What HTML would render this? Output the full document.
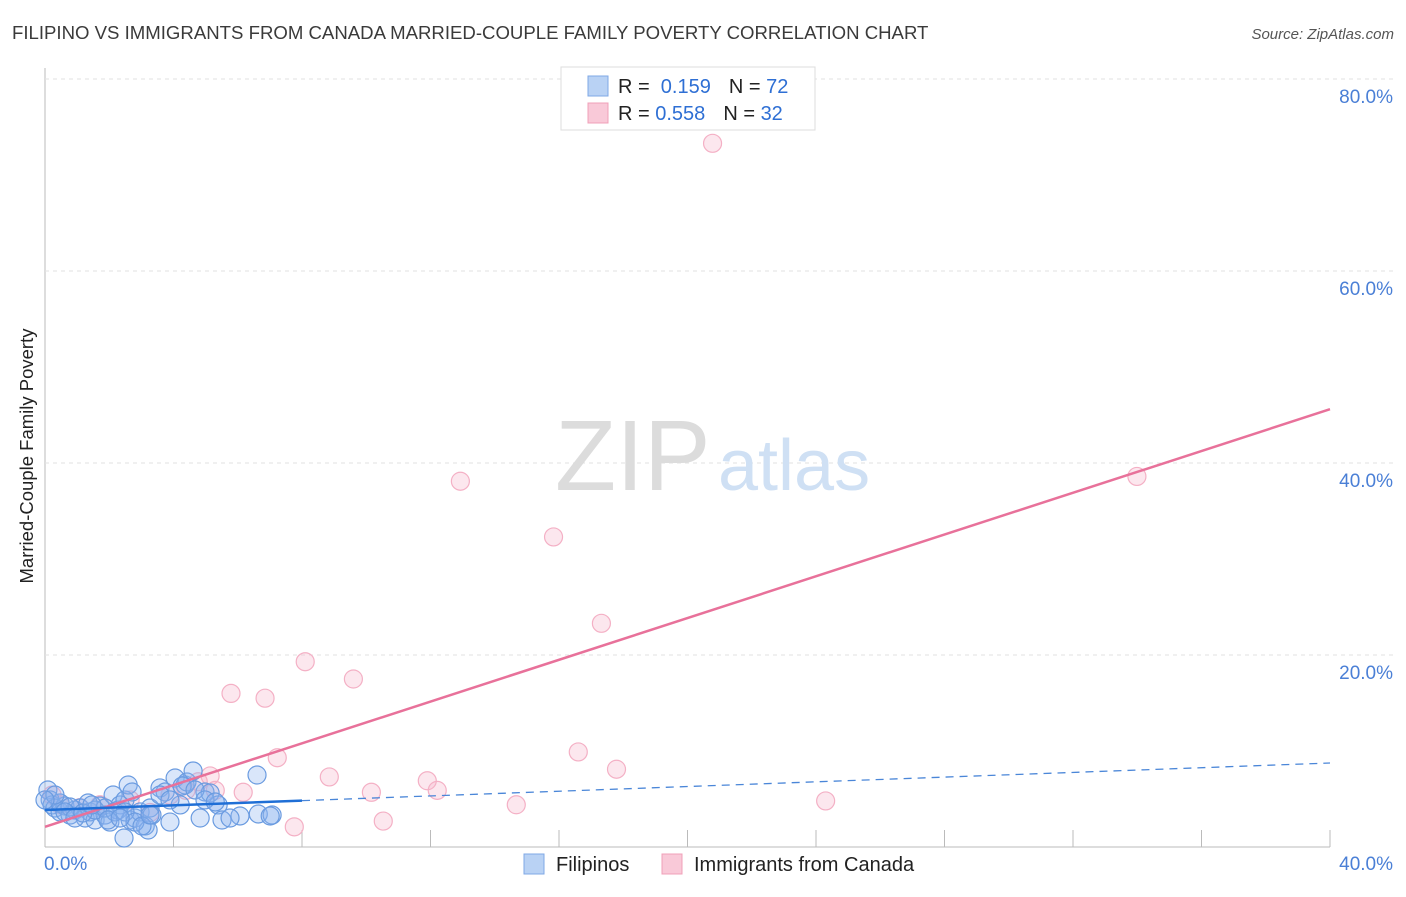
<!DOCTYPE html>
<html><head><meta charset="utf-8"><style>
body{margin:0;background:#fff;font-family:"Liberation Sans",sans-serif;}
svg text{font-family:"Liberation Sans",sans-serif;}
</style></head><body>
<svg id="chart" width="1406" height="892">
<text x="12" y="39" font-size="18.6" fill="#3a3a3a">FILIPINO VS IMMIGRANTS FROM CANADA MARRIED-COUPLE FAMILY POVERTY CORRELATION CHART</text>
<text x="1394" y="39" font-size="15" fill="#555" font-style="italic" text-anchor="end">Source: ZipAtlas.com</text>
<text x="33" y="456" font-size="18.5" fill="#222" text-anchor="middle" transform="rotate(-90 33 456)">Married-Couple Family Poverty</text>
<g id="grid"></g>
<text x="555" y="490" font-size="100" fill="#dcdcdc" font-family="Liberation Serif">ZIP</text>
<text x="718" y="490" font-size="72" fill="#cfe0f4">atlas</text>
<g id="pts"></g>
<g id="lines"></g>
<g>
<rect x="561" y="67" width="254" height="63" fill="#fff" stroke="#ddd"/>
<rect x="588" y="76" width="20" height="20" fill="#b9d2f4" stroke="#7fa8e6"/>
<rect x="588" y="103" width="20" height="20" fill="#f9c9d8" stroke="#f0a0b8"/>
<text x="618" y="93" font-size="20" fill="#222">R = <tspan fill="#2e6fd4">&#160;0.159</tspan><tspan dx="18">N = </tspan><tspan fill="#2e6fd4">72</tspan></text>
<text x="618" y="120" font-size="20" fill="#222">R = <tspan fill="#2e6fd4">0.558</tspan><tspan dx="18">N = </tspan><tspan fill="#2e6fd4">32</tspan></text>
</g>
<g>
<rect x="524" y="854" width="20" height="20" fill="#b9d2f4" stroke="#7fa8e6"/>
<text x="556" y="871" font-size="20" fill="#222">Filipinos</text>
<rect x="662" y="854" width="20" height="20" fill="#f9c9d8" stroke="#f0a0b8"/>
<text x="694" y="871" font-size="20" fill="#222">Immigrants from Canada</text>
</g>
</svg>
<script>
const blueX=[0.09,0.16,0.22,0.31,0.47,0.62,0.78,0.93,1.09,1.25,1.4,1.56,1.71,1.87,2.02,2.12,2.27,2.34,2.49,2.59,2.65,2.8,2.96,3.12,3.21,3.27,3.33,3.58,3.74,3.89,4.05,4.21,4.36,4.42,4.61,4.83,4.98,5.14,5.39,5.51,6.07,6.6,6.64,7.07,2.46,0.47,0.78,1.34,1.56,1.87,2.18,2.49,2.8,0.31,0.62,0.93,1.18,1.46,1.96,2.34,2.71,3.02,3.27,3.58,3.89,4.27,4.67,4.98,5.3,5.76,7.01,0];
const blueY=[5.94,4.9,4.38,4.06,3.65,4.27,3.33,3.85,4.06,3.02,3.65,2.81,4.27,3.33,2.6,5.42,3.85,4.38,4.9,6.46,2.81,3.02,3.65,2.19,1.77,4.06,3.33,6.15,5.73,2.6,7.19,4.38,6.46,6.77,7.92,3.02,5.73,5.63,4.38,2.81,3.23,7.5,3.44,3.33,0.94,4.58,4.17,4.58,3.85,4.06,3.65,3.65,2.6,5.42,3.65,3.02,3.54,4.38,2.81,3.02,5.73,2.19,3.33,5.42,4.9,6.35,5.94,4.9,4.69,3.02,3.23,4.9];
const pinkX=[20.78,12.93,15.83,17.32,8.1,9.6,5.79,6.85,7.23,16.6,17.79,8.85,11.9,12.21,10.16,6.17,5.14,4.77,4.39,14.67,24.3,10.53,7.76,33.99,0.22,0.47,1.09,1.71,2.65,3.27,3.89,5.3];
const pinkY=[73.3,38.1,32.3,23.3,19.3,17.5,16.0,15.5,9.3,9.9,8.1,7.3,6.9,5.9,5.7,5.7,7.4,6.8,5.9,4.4,4.8,2.7,2.1,38.6,5.4,4.4,4.1,4.4,4.9,3.6,5.4,5.9];
const yTicks=[20,40,60,80];
const xTickLabels=["0.0%","40.0%"];
const blueFit=[3.85,8.75];
const pinkFit=[2.1,45.6];
const NS="http://www.w3.org/2000/svg";
const sx=v=>45+v*(1330-45)/40;
const sy=v=>847-v*9.6;
function mk(t,a,p){const e=document.createElementNS(NS,t);for(const k in a)e.setAttribute(k,a[k]);p.appendChild(e);return e;}
const grid=document.getElementById('grid');
let ax=mk('line',{x1:45,y1:68,x2:45,y2:847,stroke:'#bbb'},grid);


let bx=mk('line',{x1:45,y1:847,x2:1330,y2:847,stroke:'#bbb'},grid);


yTicks.forEach(t=>{
 let g=mk('line',{x1:45,y1:sy(t),x2:1394,y2:sy(t),stroke:'#e2e2e2','stroke-dasharray':'4,4'},grid);
 
 
 let l=mk('text',{x:1393,y:sy(t)+24,'font-size':19,fill:'#4a7fd6','text-anchor':'end'},grid);
 l.textContent=t.toFixed(1)+'%';
 
 
});
for(let i=1;i<=10;i++){
 let t=mk('line',{x1:sx(i*4),y1:830,x2:sx(i*4),y2:847,stroke:'#bbb'},grid);
 
 
}
[[0,'start',44],[40,'end',1393]].forEach((d,i)=>{
 let l=mk('text',{x:d[2],y:870,'font-size':19,fill:'#4a7fd6','text-anchor':d[1]},grid);
 l.textContent=xTickLabels[i];
 
 
});
const pts=document.getElementById('pts');
pinkX.forEach((x,i)=>{
 let c=mk('circle',{cx:sx(x),cy:sy(pinkY[i]),r:9,fill:'rgba(246,175,198,0.3)',stroke:'#f4b0c5','stroke-width':1.2},pts);
 
 
});
blueX.forEach((x,i)=>{
 let c=mk('circle',{cx:sx(x),cy:sy(blueY[i]),r:9,fill:'rgba(140,180,240,0.33)',stroke:'#6a9be0','stroke-width':1.2},pts);
 
 
});
const lines=document.getElementById('lines');
const bAt=x=>blueFit[0]+(blueFit[1]-blueFit[0])*x/40;
let pl=mk('line',{x1:sx(0),y1:sy(pinkFit[0]),x2:sx(40),y2:sy(pinkFit[1]),stroke:'#e8719a','stroke-width':2.5},lines);


let bl=mk('line',{x1:sx(0),y1:sy(bAt(0)),x2:sx(8),y2:sy(bAt(8)),stroke:'#1f6fd6','stroke-width':2.5},lines);


let bd=mk('line',{x1:sx(8),y1:sy(bAt(8)),x2:sx(40),y2:sy(bAt(40)),stroke:'#4a86d8','stroke-width':1.3,'stroke-dasharray':'8,6'},lines);


</script>
</body></html>
